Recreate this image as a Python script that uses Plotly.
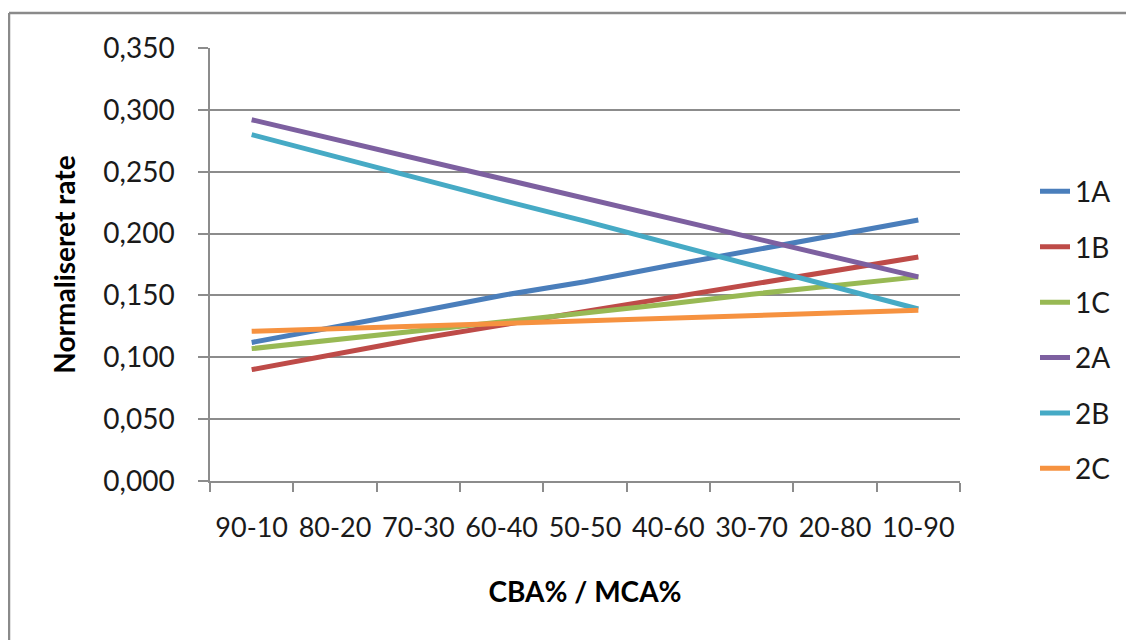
import plotly.graph_objects as go

categories = ["90-10", "80-20", "70-30", "60-40", "50-50", "40-60", "30-70", "20-80", "10-90"]

s_1A = [0.112, 0.124, 0.137, 0.150, 0.161, 0.174, 0.186, 0.199, 0.211]
s_1B = [0.090, 0.103, 0.115, 0.126, 0.137, 0.148, 0.159, 0.170, 0.181]
s_1C = [0.107, 0.114, 0.122, 0.129, 0.136, 0.143, 0.151, 0.158, 0.165]
s_2A = [0.292, 0.276, 0.260, 0.244, 0.228, 0.213, 0.197, 0.181, 0.165]
s_2B = [0.280, 0.262, 0.245, 0.227, 0.210, 0.192, 0.174, 0.157, 0.139]
s_2C = [0.121, 0.123, 0.125, 0.127, 0.129, 0.131, 0.133, 0.135, 0.138]

series_names = ["1A", "1B", "1C", "2A", "2B", "2C"]
series_values = [s_1A, s_1B, s_1C, s_2A, s_2B, s_2C]
colors = ["#4A7EBB", "#BE4B48", "#98B954", "#7D60A0", "#46AAC5", "#F69240"]

y_ticks = [0, 0.05, 0.10, 0.15, 0.20, 0.25, 0.30, 0.35]

FONT = "Lato"
GRID = "#8C8C8C"
FS = 28

fig = go.Figure()
for name, vals, col in zip(series_names, series_values, colors):
    fig.add_trace(go.Scatter(
        x=categories, y=vals, name=name, mode="lines",
        line=dict(color=col, width=5), legendgroup=name,
    ))

fig.update_layout(
    width=1134, height=640,
    margin=dict(l=202, r=182, t=40, b=167),
    paper_bgcolor="white", plot_bgcolor="white",
    separators=", ",
    font=dict(family=FONT, size=FS, color="#1a1a1a"),
    showlegend=True,
    legend=dict(
        x=1.10, xanchor="left", y=0.726, yanchor="top",
        font=dict(family=FONT, size=FS, color="#1a1a1a"),
        tracegroupgap=16, bgcolor="rgba(0,0,0,0)", borderwidth=0,
    ),
    xaxis=dict(
        type="category", range=[-0.5, 8.5],
        showgrid=False, showline=True, linecolor=GRID, linewidth=1.5,
        ticks="outside", tickson="boundaries", ticklen=9, tickcolor=GRID, tickwidth=1.5,
        ticklabelstandoff=22, tickangle=0,
        tickfont=dict(family=FONT, size=27, color="#1a1a1a"),
        title=dict(text="<b>CBA% / MCA%</b>", standoff=40,
                   font=dict(family=FONT, size=FS, color="#000000")),
        zeroline=False,
    ),
    yaxis=dict(
        range=[0, 0.35], tickvals=y_ticks, tickformat=".3f",
        showgrid=True, gridcolor=GRID, gridwidth=1.5,
        showline=True, linecolor=GRID, linewidth=1.5,
        ticks="outside", ticklen=10, tickcolor=GRID, tickwidth=1.5,
        ticklabelstandoff=18,
        tickfont=dict(family=FONT, size=FS, color="#1a1a1a"),
        title=dict(text="<b>Normaliseret rate</b>", standoff=20,
                   font=dict(family=FONT, size=FS, color="#000000")),
        zeroline=False,
    ),
)

# outer chart border (top and left edges visible in the reference)
fig.add_shape(type="line", xref="paper", yref="paper",
              x0=(1 - 202) / 750, x1=(1134 - 202) / 750,
              y0=(473 - 5) / 433, y1=(473 - 5) / 433,
              line=dict(color="#8A8A8A", width=2.5))
fig.add_shape(type="line", xref="paper", yref="paper",
              x0=(1 - 202) / 750, x1=(1 - 202) / 750,
              y0=(473 - 5) / 433, y1=(473 - 640) / 433,
              line=dict(color="#8A8A8A", width=2.5))

fig.write_html("out.html")
